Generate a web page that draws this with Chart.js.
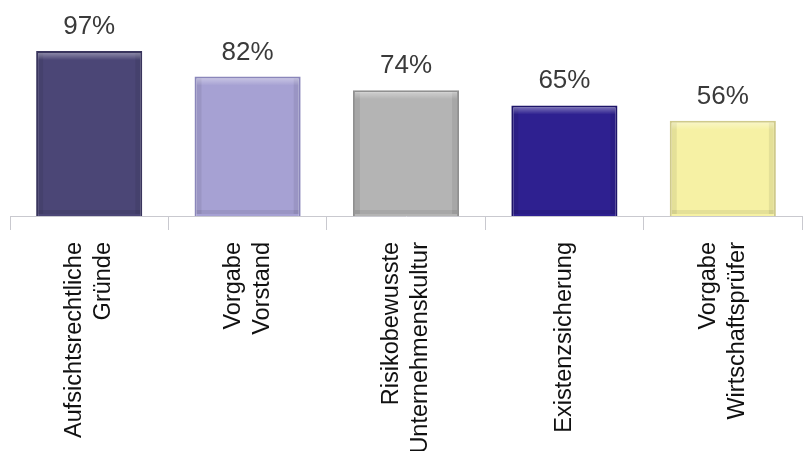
<!DOCTYPE html>
<html>
<head>
<meta charset="utf-8">
<script src="https://cdn.jsdelivr.net/npm/chart.js@4/dist/chart.umd.min.js"></script>
<style>
  body { margin: 0; background: #fff; }
  canvas { display: block; }
</style>
</head>
<body>
<canvas id="reasonChart" width="808" height="451"></canvas>
<script>
// categories (each entry is one line of the rotated label)
var reasons = [
  ["Aufsichtsrechtliche", "Gründe"],
  ["Vorgabe", "Vorstand"],
  ["Risikobewusste", "Unternehmenskultur"],
  ["Existenzsicherung"],
  ["Vorgabe", "Wirtschaftsprüfer"]
];
var shares = [97, 82, 74, 65, 56];
var barColors = ["#4b4676", "#a6a1d3", "#b4b4b4", "#2e2090", "#f6f1a4"];
var edgeColors = ["#39355d", "#8a86ba", "#909090", "#1d1468", "#cfca8c"];

// bevel: light strip on top, darker strips on the sides
var bevelPlugin = {
  id: "bevel",
  afterDatasetsDraw: function(chart) {
    var ctx = chart.ctx;
    var meta = chart.getDatasetMeta(0);
    ctx.save();
    for (var i = 0; i < meta.data.length; ++i) {
      var bar = meta.data[i];
      var left = bar.x - bar.width / 2;
      var right = bar.x + bar.width / 2;
      var h = bar.base - bar.y;
      ctx.fillStyle = "rgba(0,0,0,0.07)";
      ctx.fillRect(left + 2, bar.y + 2, 5, h - 4);
      ctx.fillRect(right - 7, bar.y + 2, 5, h - 4);
      ctx.fillRect(left + 2, bar.base - 6, bar.width - 4, 4);
      var g = ctx.createLinearGradient(0, bar.y, 0, bar.y + 9);
      g.addColorStop(0, "rgba(255,255,255,0.45)");
      g.addColorStop(1, "rgba(255,255,255,0)");
      ctx.fillStyle = g;
      ctx.fillRect(left + 2, bar.y + 2, bar.width - 4, 9);
    }
    ctx.restore();
  }
};

// value above each bar and rotated category labels under the axis
var labelPlugin = {
  id: "labels",
  afterDraw: function(chart) {
    var ctx = chart.ctx;
    var meta = chart.getDatasetMeta(0);
    var xScale = chart.scales.x;
    ctx.save();
    ctx.font = "26px 'Liberation Sans', Arial, sans-serif";
    ctx.fillStyle = "#3a3a3a";
    ctx.textAlign = "center";
    ctx.textBaseline = "alphabetic";
    for (var i = 0; i < meta.data.length; ++i) {
      var bar = meta.data[i];
      ctx.fillText(shares[i] + "%", bar.x, bar.y - 17);
    }

    ctx.font = "23.5px 'Liberation Sans', Arial, sans-serif";
    ctx.fillStyle = "#111";
    ctx.textAlign = "right";
    ctx.textBaseline = "middle";
    var top = chart.chartArea.bottom + 26;
    var lineH = 29;
    for (var i = 0; i < reasons.length; ++i) {
      var x = xScale.getPixelForValue(i);
      var lines = reasons[i];
      ctx.save();
      ctx.translate(x, top);
      ctx.rotate(-Math.PI / 2);
      for (var j = 0; j < lines.length; ++j) {
        ctx.fillText(lines[j], 0, (j - (lines.length - 1) / 2) * lineH);
      }
      ctx.restore();
    }
    ctx.restore();
  }
};

var ctx = document.getElementById("reasonChart");
var reasonChart = new Chart(ctx, {
  type: "bar",
  data: {
    labels: reasons,
    datasets: [{
      data: shares,
      backgroundColor: barColors,
      borderColor: edgeColors,
      borderWidth: 2,
      barPercentage: 0.67,
      categoryPercentage: 1
    }]
  },
  options: {
    responsive: false,
    animation: false,
    layout: { padding: { left: 10, right: 6, top: 0, bottom: 221 } },
    plugins: {
      legend: { display: false },
      tooltip: { enabled: false }
    },
    scales: {
      x: {
        offset: true,
        ticks: { display: false },
        grid: {
          offset: true,
          drawOnChartArea: false,
          drawTicks: true,
          tickLength: 14,
          color: "#c9c9cf"
        },
        border: { display: true, color: "#c9c9cf", width: 1 }
      },
      y: {
        display: false,
        min: 0,
        max: 127
      }
    }
  },
  plugins: [bevelPlugin, labelPlugin]
});
</script>
</body>
</html>
